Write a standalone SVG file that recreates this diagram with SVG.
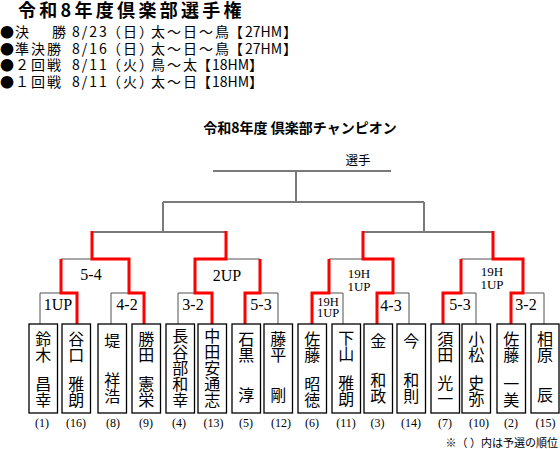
<svg xmlns="http://www.w3.org/2000/svg" width="560" height="449" viewBox="0 0 560 449">
<style>
.g2{stroke:#7a7a7a;stroke-width:2;fill:none}
.g1{stroke:#505050;stroke-width:1;fill:none}
.r{stroke:#ff0000;stroke-width:3;fill:none;stroke-linejoin:miter}
.box{fill:#fff;stroke:#000;stroke-width:1.3}
.nm{font-family:"Noto Sans CJK JP",sans-serif;font-size:16px;writing-mode:vertical-rl;fill:#000}
.sd{font-family:"Liberation Serif",serif;font-size:12px;text-anchor:middle;fill:#000}
.lb{font-family:"Liberation Serif",serif;font-size:16px;text-anchor:middle;fill:#000}
.ls{font-family:"Liberation Serif",serif;font-size:13px;text-anchor:middle;fill:#000}
.hd{font-family:"Noto Sans CJK JP",sans-serif;font-size:14px;fill:#000}
.w{letter-spacing:2px}
.t{font-family:"Noto Sans CJK JP",sans-serif;font-weight:bold;fill:#000}
</style>
<rect width="560" height="449" fill="#fff"/>
<g id="header">
<text class="t" x="18" y="17" font-size="18" letter-spacing="3.3">令和8年度倶楽部選手権</text>
<text class="hd" y="37"><tspan x="0">●</tspan><tspan x="15">決</tspan><tspan x="52">勝</tspan><tspan x="72" class="w">8/23</tspan><tspan x="107" class="w">（日）</tspan><tspan x="151" class="w">太～日～鳥</tspan><tspan x="229">【</tspan><tspan x="245">27HM</tspan><tspan x="283">】</tspan></text>
<text class="hd" y="53.5"><tspan x="0">●</tspan><tspan x="15" class="w">準決勝</tspan><tspan x="72" class="w">8/16</tspan><tspan x="107" class="w">（日）</tspan><tspan x="151" class="w">太～日～鳥</tspan><tspan x="229">【</tspan><tspan x="245">27HM</tspan><tspan x="283">】</tspan></text>
<text class="hd" y="70"><tspan x="0">●</tspan><tspan x="15" class="w">２回戦</tspan><tspan x="72" class="w">8/11</tspan><tspan x="107" class="w">（火）</tspan><tspan x="151" class="w">鳥～太</tspan><tspan x="197">【</tspan><tspan x="212">18HM</tspan><tspan x="249">】</tspan></text>
<text class="hd" y="86.5"><tspan x="0">●</tspan><tspan x="15" class="w">１回戦</tspan><tspan x="72" class="w">8/11</tspan><tspan x="107" class="w">（火）</tspan><tspan x="151" class="w">太～日</tspan><tspan x="197">【</tspan><tspan x="212">18HM</tspan><tspan x="249">】</tspan></text>
<text class="t" x="300" y="133" font-size="14" text-anchor="middle">令和8年度 倶楽部チャンピオン</text>
<text class="hd" x="358" y="165" text-anchor="middle" style="font-size:12.5px">選手</text>
</g>
<g id="connectors">
<path class="g2" d="M213,171 H391 M296,171 V202 M163,202 H424 M163,202 V232 M424,202 V232 M92,232 H227 M363,232 H493"/>
<path class="g1" d="M40,324 V293 H61 M61,259 H92 M111,324 V293 H129 M178,324 V293 H195 M226,259 H260 M260,293 H278 V324 M329,293 H343 V324 M329,259 H363 M393,293 H409 V324 M461,293 H476 V324 M461,259 H493 M523,293 H544 V324"/>
<path class="r" d="M77,324 V293 H61 V259"/>
<path class="r" d="M144,324 V293 H129 V259 H92 V231"/>
<path class="r" d="M212,324 V293 H195 V259 H226 V231"/>
<path class="r" d="M245,324 V293 H260 V259"/>
<path class="r" d="M312,324 V293 H329 V259"/>
<path class="r" d="M377,324 V293 H393 V259 H363 V231"/>
<path class="r" d="M443,324 V293 H461 V259"/>
<path class="r" d="M511,324 V293 H523 V259 H493 V231"/>
</g>
<g id="labels">
<text class="lb" x="91" y="280">5-4</text>
<text class="lb" x="58" y="310">1UP</text>
<text class="lb" x="127" y="310">4-2</text>
<text class="lb" x="227" y="281">2UP</text>
<text class="lb" x="193" y="310">3-2</text>
<text class="lb" x="261" y="310">5-3</text>
<text class="ls" x="328" y="305.5" style="font-size:12.5px">19H</text>
<text class="ls" x="328" y="317" style="font-size:12.5px">1UP</text>
<text class="ls" x="359" y="278">19H</text>
<text class="ls" x="359" y="290.5">1UP</text>
<text class="lb" x="391" y="311">4-3</text>
<text class="ls" x="492" y="276">19H</text>
<text class="ls" x="492" y="289">1UP</text>
<text class="lb" x="460" y="310">5-3</text>
<text class="lb" x="526" y="310">3-2</text>
</g>
<g id="p1"><rect class="box" x="29" y="324" width="28.5" height="89"/><text class="nm"><tspan x="43.25" y="330.5">鈴木</tspan><tspan x="43.25" y="376">昌幸</tspan></text><text class="sd" x="42" y="427">(1)</text></g>
<g id="p2"><rect class="box" x="62" y="324" width="28.5" height="89"/><text class="nm"><tspan x="76.25" y="330.5">谷口</tspan><tspan x="76.25" y="376">雅朗</tspan></text><text class="sd" x="76" y="427">(16)</text></g>
<g id="p3"><rect class="box" x="98" y="324" width="28.5" height="89"/><text class="nm"><tspan x="112.25" y="333">堤</tspan><tspan x="112.25" y="372">祥浩</tspan></text><text class="sd" x="113" y="427">(8)</text></g>
<g id="p4"><rect class="box" x="132" y="324" width="28.5" height="89"/><text class="nm"><tspan x="146.25" y="330.5">勝田</tspan><tspan x="146.25" y="376">憲栄</tspan></text><text class="sd" x="146" y="427">(9)</text></g>
<g id="p5"><rect class="box" x="166" y="324" width="28.5" height="89"/><text class="nm"><tspan x="180.25" y="328">長谷部和幸</tspan></text><text class="sd" x="179" y="427">(4)</text></g>
<g id="p6"><rect class="box" x="198" y="324" width="28.5" height="89"/><text class="nm"><tspan x="212.25" y="328">中田安通志</tspan></text><text class="sd" x="213.5" y="427">(13)</text></g>
<g id="p7"><rect class="box" x="232" y="324" width="28.5" height="89"/><text class="nm"><tspan x="246.25" y="331">石黒</tspan><tspan x="246.25" y="387">淳</tspan></text><text class="sd" x="246" y="427">(5)</text></g>
<g id="p8"><rect class="box" x="264" y="324" width="28.5" height="89"/><text class="nm"><tspan x="278.25" y="331">藤平</tspan><tspan x="278.25" y="387">剛</tspan></text><text class="sd" x="281" y="427">(12)</text></g>
<g id="p9"><rect class="box" x="298" y="324" width="28.5" height="89"/><text class="nm"><tspan x="312.25" y="330.5">佐藤</tspan><tspan x="312.25" y="375.5">昭徳</tspan></text><text class="sd" x="312" y="427">(6)</text></g>
<g id="p10"><rect class="box" x="332" y="324" width="28.5" height="89"/><text class="nm"><tspan x="346.25" y="329.5">下山</tspan><tspan x="346.25" y="374.5">雅朗</tspan></text><text class="sd" x="346" y="427">(11)</text></g>
<g id="p11"><rect class="box" x="364" y="324" width="28.5" height="89"/><text class="nm"><tspan x="378.25" y="333">金</tspan><tspan x="378.25" y="372">和政</tspan></text><text class="sd" x="377.5" y="427">(3)</text></g>
<g id="p12"><rect class="box" x="397" y="324" width="28.5" height="89"/><text class="nm"><tspan x="411.25" y="333">今</tspan><tspan x="411.25" y="372">和則</tspan></text><text class="sd" x="411" y="427">(14)</text></g>
<g id="p13"><rect class="box" x="431" y="324" width="28.5" height="89"/><text class="nm"><tspan x="445.25" y="330.5">須田</tspan><tspan x="445.25" y="375">光一</tspan></text><text class="sd" x="445" y="427">(7)</text></g>
<g id="p14"><rect class="box" x="462" y="324" width="28.5" height="89"/><text class="nm"><tspan x="476.25" y="330.5">小松</tspan><tspan x="476.25" y="375">史弥</tspan></text><text class="sd" x="479" y="427">(10)</text></g>
<g id="p15"><rect class="box" x="497" y="324" width="28.5" height="89"/><text class="nm"><tspan x="511.25" y="330.5">佐藤</tspan><tspan x="511.25" y="376">一美</tspan></text><text class="sd" x="511" y="427">(2)</text></g>
<g id="p16"><rect class="box" x="531" y="324" width="28" height="89"/><text class="nm"><tspan x="545" y="330.5">相原</tspan><tspan x="545" y="387">辰</tspan></text><text class="sd" x="545.5" y="427">(15)</text></g>
<g id="note"><text class="hd" x="558" y="447" text-anchor="end" style="font-size:11px">※（ ）内は予選の順位</text></g>
</svg>
